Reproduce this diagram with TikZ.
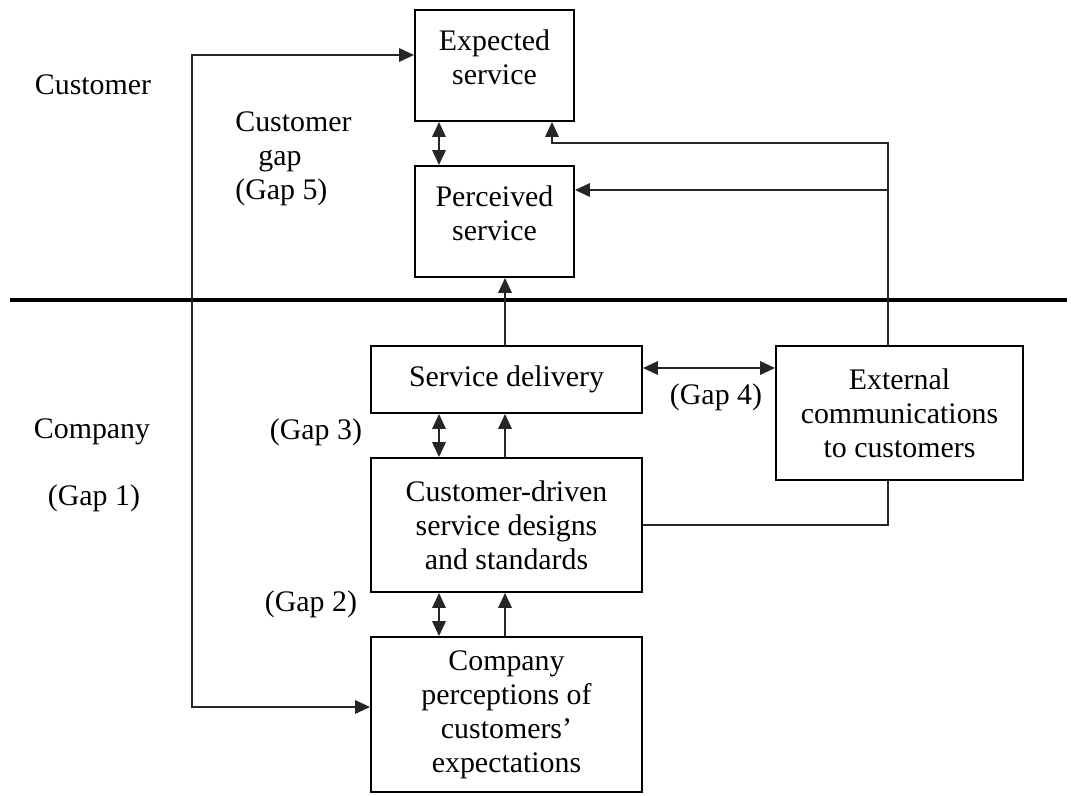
\documentclass[tikz,border=0pt]{standalone}
\usepackage{fontspec}
\setmainfont{Liberation Serif}
\usetikzlibrary{arrows.meta,calc}
\newlength{\px}
\setlength{\px}{0.02cm}
\begin{document}
\begin{tikzpicture}[x=0.02cm,y=-0.02cm,
  every node/.style={font=\fontsize{17}{19.4}\selectfont},
  box/.style={draw=black,line width=1.1pt,align=center,inner sep=0pt},
  lab/.style={align=center,inner sep=0pt},
  conn/.style={line width=1.1pt,draw=black!85},
  tip/.tip={Triangle[length=0.3cm,width=0.27cm]}]
\useasboundingbox (0,0) rectangle (1071,795);
% boxes
\node[box,minimum width=159\px,minimum height=111\px] (exp) at (494.5,65.5) {};
\node[lab] (expt) at (494.5,57) {Expected\\service};
\node[box,minimum width=159\px,minimum height=111\px] (perc) at (494.5,221.5) {};
\node[lab] (perct) at (494.5,213) {Perceived\\service};
\node[box,minimum width=271\px,minimum height=67\px] (sd) at (506.5,379.5) {Service delivery};
\node[box,minimum width=271\px,minimum height=134\px] (cd) at (506.5,525) {Customer-driven\\service designs\\and standards};
\node[box,minimum width=271\px,minimum height=155\px] (cp) at (506.5,714.5) {Company\\perceptions of\\customers'\\expectations};
\node[box,minimum width=247\px,minimum height=134\px] (ec) at (899.5,413) {External\\communications\\to customers};
% labels
\node[lab] (lcust) at (93,85) {Customer};
\node[lab,align=left,anchor=north west] (lgap5) at (235,111) {Customer\\\hspace{23\px}gap\\(Gap 5)};
\node[lab] (lcomp) at (92,432) {Company};
\node[lab] (lg1) at (94,498) {(Gap 1)};
\node[lab] (lg3) at (316,432) {(Gap 3)};
\node[lab] (lg2) at (311,604) {(Gap 2)};
\node[lab] (lg4) at (716,397) {(Gap 4)};
% separator
\coordinate (hl1) at (10,300);
\coordinate (hl2) at (1067,300);
\draw[line width=2pt] (hl1) -- (hl2);
% connectors
\coordinate (gl) at (192,380);
\draw[conn,tip-tip] ([yshift=10.5\px]exp.west) -| (gl) |- ([yshift=7.5\px]cp.west);
\draw[conn,tip-tip] ([xshift=-55.5\px]exp.south) -- ([xshift=-55.5\px]perc.north);
\coordinate (ectop) at (888,143);
\coordinate (ecmid) at (888,190);
\draw[conn,-tip] ([xshift=-11.5\px]ec.north) -- (ectop) -| ([xshift=57.5\px]exp.south);
\draw[conn,-tip] (ecmid) -- (ecmid -| perc.east);
\draw[conn,-tip] ([xshift=-1.5\px]sd.north) -- ([xshift=-1.5\px]sd.north |- perc.south);
\draw[conn,tip-tip] ([yshift=11.5\px]sd.east) -- ([yshift=11.5\px]sd.east -| ec.west);
\draw[conn,tip-tip] ([xshift=-67.5\px]sd.south) -- ([xshift=-67.5\px]cd.north);
\draw[conn,-tip] ([xshift=-1.5\px]cd.north) -- ([xshift=-1.5\px]sd.south);
\draw[conn] (cd.east) -| ([xshift=-11.5\px]ec.south);
\draw[conn,tip-tip] ([xshift=-67.5\px]cd.south) -- ([xshift=-67.5\px]cp.north);
\draw[conn,-tip] ([xshift=-1.5\px]cp.north) -- ([xshift=-1.5\px]cd.south);
\end{tikzpicture}
\end{document}
